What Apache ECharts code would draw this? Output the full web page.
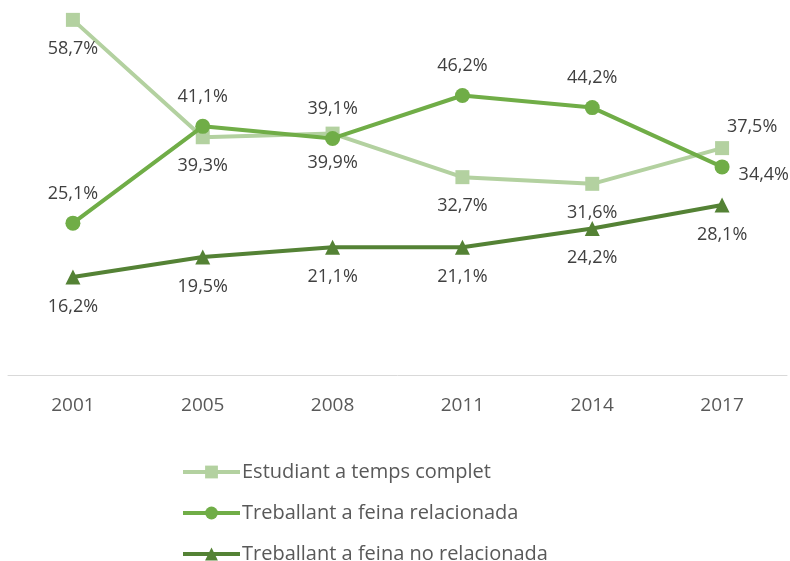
<!DOCTYPE html>
<html>
<head>
<meta charset="utf-8">
<script src="https://cdn.jsdelivr.net/npm/echarts@6/dist/echarts.min.js"></script>
<style>
	html, body { margin: 0; padding: 0; background: #fff; }
	#chart { width: 790px; height: 561px; }
</style>
</head>
<body>
<div id="chart"></div>
<script>
const years = ['2001', '2005', '2008', '2011', '2014', '2017'];
const estudiant = [58.7, 39.3, 39.9, 32.7, 31.6, 37.5];
const relacionada = [25.1, 41.1, 39.1, 46.2, 44.2, 34.4];
const noRelacionada = [16.2, 19.5, 21.1, 21.1, 24.2, 28.1];

// where each value label sits relative to its point
const estudiantPos = ['bottom', 'bottom', 'bottom', 'bottom', 'bottom', 'top'];
const relacionadaPos = ['top', 'top', 'top', 'top', 'top', 'right'];
const noRelacionadaPos = ['bottom', 'bottom', 'bottom', 'bottom', 'bottom', 'bottom'];

const textColor = '#404040';
const fontFamily = '"Open Sans", "Noto Sans", sans-serif';

function fmt(v) {
	return v.toFixed(1).replace('.', ',') + '%';
}

function points(values, positions, offsets) {
	return values.map((v, i) => ({
		value: v,
		label: {
			position: positions[i],
			offset: offsets[i] || [0, 0]
		}
	}));
}

const chart = echarts.init(document.getElementById('chart'));
chart.setOption({
	animation: false,
	textStyle: { fontFamily: fontFamily },
	grid: { left: 8, right: 3, top: 12, bottom: 186 },
	xAxis: {
		type: 'category',
		data: years,
		boundaryGap: true,
		axisLine: { lineStyle: { color: '#d9d9d9', width: 1 } },
		axisTick: { show: false },
		axisLabel: { color: '#595959', fontSize: 19, margin: 21, fontFamily: fontFamily }
	},
	yAxis: {
		type: 'value',
		min: 0,
		max: 60,
		show: false,
		splitLine: { show: false }
	},
	legend: {
		orient: 'vertical',
		left: 176,
		top: 457,
		height: 116,
		itemGap: 21,
		itemWidth: 57,
		itemHeight: 16,
		lineStyle: { width: 4 },
		textStyle: { color: '#595959', fontSize: 20, fontFamily: fontFamily, padding: [0, 0, 0, -3] },
		data: ['Estudiant a temps complet', 'Treballant a feina relacionada', 'Treballant a feina no relacionada']
	},
	series: [
		{
			name: 'Estudiant a temps complet',
			type: 'line',
			data: points(estudiant, estudiantPos, [[0, 4], [0, 4], [0, 4], [0, 4], [0, 4], [30, 4]]),
			color: '#b3d1a0',
			symbol: 'rect',
			symbolSize: 14,
			lineStyle: { width: 4, color: '#b3d1a0' },
			label: { show: true, color: textColor, fontSize: 18, distance: 9, formatter: p => fmt(p.value) },
			z: 1
		},
		{
			name: 'Treballant a feina relacionada',
			type: 'line',
			data: points(relacionada, relacionadaPos, [[0, -4], [0, -4], [0, -4], [0, -4], [0, -4], [0, 8]]),
			color: '#70ad47',
			symbol: 'circle',
			symbolSize: 15,
			lineStyle: { width: 4, color: '#70ad47' },
			label: { show: true, color: textColor, fontSize: 18, distance: 9, formatter: p => fmt(p.value) },
			z: 2
		},
		{
			name: 'Treballant a feina no relacionada',
			type: 'line',
			data: points(noRelacionada, noRelacionadaPos, []),
			color: '#548235',
			symbol: 'triangle',
			symbolSize: 15,
			lineStyle: { width: 4, color: '#548235' },
			label: { show: true, color: textColor, fontSize: 18, distance: 13, formatter: p => fmt(p.value) },
			z: 3
		}
	]
});
</script>
</body>
</html>
